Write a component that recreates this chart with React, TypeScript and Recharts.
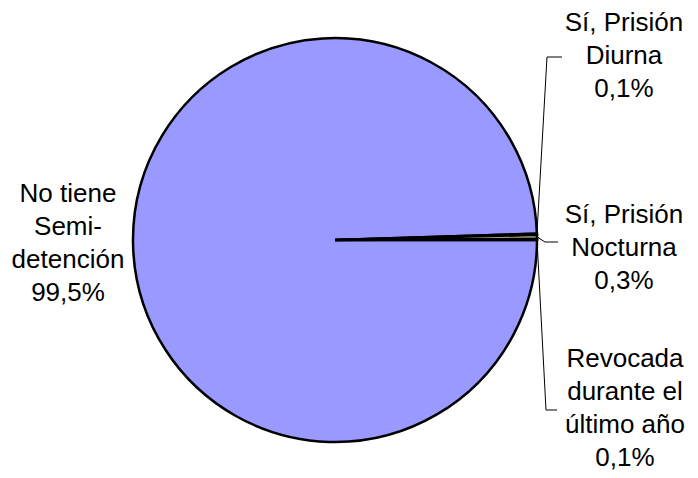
import { PieChart, Pie, Cell } from 'recharts';

const categoryLines = [
  ['No tiene', 'Semi-', 'detención'],
  ['Sí, Prisión', 'Diurna'],
  ['Sí, Prisión', 'Nocturna'],
  ['Revocada', 'durante el', 'último año'],
];
const values = [99.5, 0.1, 0.3, 0.1];
const colors = ['#9999FF', '#993366', '#FFFFCC', '#CCFFFF'];

const data = values.map((value, i) => ({ name: categoryLines[i].join(' '), value }));

// where each label block sits and where its leader line bends
const labelLayout = [
  { x: 68, y: 202, bend: null },
  { x: 624, y: 31, bend: [547, 57, 562] },
  { x: 624, y: 223, bend: [545, 242, 558] },
  { x: 625, y: 367, bend: [546, 410, 557] },
];

const RAD = Math.PI / 180;
const FONT = '"Liberation Sans", Arial, sans-serif';

const renderLabel = (props: any) => {
  const { cx, cy, midAngle, outerRadius, index } = props;
  const layout = labelLayout[index];
  const lines = [...categoryLines[index], `${values[index].toFixed(1).replace('.', ',')}%`];
  let leader = null;
  if (layout.bend) {
    const sx = cx + outerRadius * Math.cos(-midAngle * RAD);
    const sy = cy + outerRadius * Math.sin(-midAngle * RAD);
    const [bx, by, ex] = layout.bend;
    leader = (
      <polyline
        points={`${sx},${sy} ${bx},${by} ${ex},${by}`}
        fill="none"
        stroke="#000"
        strokeWidth={1}
      />
    );
  }
  return (
    <g key={`lbl-${index}`}>
      {leader}
      <text x={layout.x} y={layout.y} textAnchor="middle" fill="#000" fontSize={26} fontFamily={FONT}>
        {lines.map((t, i) => (
          <tspan key={i} x={layout.x} y={layout.y + i * 33}>
            {t}
          </tspan>
        ))}
      </text>
    </g>
  );
};

export default function App() {
  return (
    <div style={{ position: 'absolute', left: 0, top: 0, width: 698, height: 478, background: '#fff' }}>
      <PieChart width={698} height={478} margin={{ top: 0, right: 0, bottom: 0, left: 0 }}>
        <Pie
          data={data}
          dataKey="value"
          nameKey="name"
          cx={335}
          cy={240}
          outerRadius={202}
          startAngle={0}
          endAngle={-360}
          stroke="#000"
          strokeWidth={2.5}
          label={renderLabel}
          labelLine={false}
          isAnimationActive={false}
        >
          {data.map((d, i) => (
            <Cell key={d.name} fill={colors[i]} />
          ))}
        </Pie>
      </PieChart>
    </div>
  );
}
